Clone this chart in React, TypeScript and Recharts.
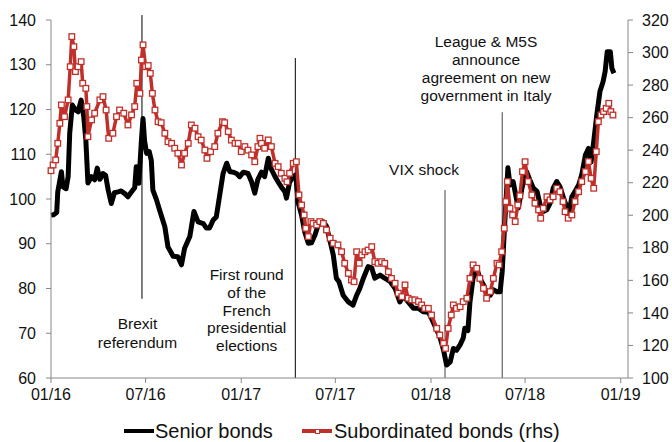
import { LineChart, Line, XAxis, YAxis, ReferenceLine } from 'recharts';

// days counted from 1 Jan 2016
const xTickDays = [0, 182, 366, 547, 731, 912, 1096];
const xTickLabels = ['01/16', '07/16', '01/17', '07/17', '01/18', '07/18', '01/19'];
const leftTicks = [60, 70, 80, 90, 100, 110, 120, 130, 140];
const rightTicks = [100, 120, 140, 160, 180, 200, 220, 240, 260, 280, 300, 320];

const seniorDays = [
  0, 5, 11, 13, 20, 23, 29, 33, 36, 41, 47, 52, 58, 63, 67, 71, 78, 84, 89, 94,
  100, 105, 110, 116, 122, 129, 135, 142, 148, 155, 161, 164, 169, 174, 177, 180, 184, 189, 193, 196,
  203, 209, 219, 225, 235, 244, 251, 257, 267, 275, 283, 293, 299, 305, 312, 318, 324, 331, 338, 344,
  350, 357, 363, 370, 379, 386, 392, 398, 405, 411, 418, 424, 431, 437, 443, 450, 453, 459, 466, 471,
  475, 482, 488, 495, 501, 508, 514, 524, 530, 537, 543, 549, 554, 562, 572, 581, 588, 594, 601, 610,
  617, 623, 633, 642, 652, 662, 671, 678, 687, 697, 707, 716, 726, 732, 739, 748, 755, 761, 768, 774,
  780, 787, 793, 796, 802, 806, 812, 819, 825, 832, 838, 845, 851, 858, 864, 868, 873, 879, 883, 889,
  894, 899, 906, 912, 915, 922, 928, 935, 941, 947, 954, 960, 966, 973, 979, 986, 992, 997, 1002, 1008,
  1015, 1021, 1028, 1034, 1039, 1044, 1050, 1056, 1062, 1066, 1070, 1076, 1079, 1083,
];
const seniorValues = [
  96.4, 96.5, 97, 101.6, 106.1, 102.7, 102.3, 105, 114.7, 121, 119.9, 119.5, 122.1, 118.4, 113.2, 103.6, 105, 104.3, 106.9, 104.4,
  105.7, 105.3, 102, 99, 101.4, 101.6, 101.8, 101.2, 100.5, 101.6, 102.5, 107.2, 103.5, 113.2, 118, 113, 110.2, 110.6, 108.6, 102,
  99.8, 97.5, 93.8, 89.3, 87.2, 87.1, 85.3, 89, 91.6, 97.2, 94.9, 94.5, 93.5, 93.5, 95.3, 96, 100.5, 105.7, 108, 106.1,
  106, 105.7, 105, 106, 105.7, 103.8, 101.3, 104.4, 106, 105, 109.1, 106.6, 105, 103.8, 102.7, 101.6, 100.2, 103.8, 105, 105.4,
  99.4, 96.4, 92.7, 90.1, 90.2, 92, 94.2, 94.9, 93.9, 90.5, 87.5, 82.3, 81.5, 78.5, 77, 76.3, 78.5, 80, 82.3, 84.9,
  84.6, 82.3, 83, 82.3, 81.6, 80, 77, 78.4, 77, 75.6, 75.6, 74.8, 74.7, 73.3, 71.5, 69.2, 66.3, 62.9, 63.6, 66.6,
  66.2, 67.4, 68.9, 71.1, 70.6, 77, 82.3, 84.5, 82.3, 80.8, 78.9, 78.5, 79.7, 79.3, 79.3, 83.8, 94.9, 107, 103.1, 103.9,
  100.9, 98, 102.4, 105.4, 106.1, 104, 102.4, 101.7, 98.7, 97.2, 97.6, 99, 102.4, 103.9, 102.8, 100.2, 98.3, 97.2, 100.5, 101.7,
  103.1, 105.4, 109.8, 111.3, 108.3, 112.8, 118.8, 124, 126.2, 128.5, 132.9, 132.9, 129.2, 128.1,
];

const subDays = [
  0, 4, 9, 13, 17, 20, 26, 33, 37, 40, 44, 47, 52, 58, 61, 67, 69, 71, 78, 84,
  94, 100, 106, 111, 119, 126, 132, 140, 148, 155, 161, 165, 171, 174, 177, 182, 187, 191, 195, 200,
  206, 212, 219, 225, 232, 238, 244, 251, 257, 264, 270, 277, 283, 289, 296, 300, 307, 315, 321, 330,
  334, 341, 347, 354, 360, 366, 373, 379, 386, 392, 398, 402, 405, 411, 418, 424, 431, 437, 443, 450,
  454, 459, 466, 472, 477, 482, 487, 490, 495, 500, 504, 511, 517, 524, 530, 537, 543, 552, 559, 565,
  572, 578, 583, 588, 593, 598, 604, 610, 617, 623, 629, 636, 642, 649, 655, 662, 668, 675, 681, 687,
  694, 700, 707, 713, 719, 726, 732, 742, 748, 755, 759, 764, 770, 774, 780, 787, 793, 800, 806, 812,
  819, 825, 832, 838, 845, 851, 858, 862, 867, 872, 875, 878, 883, 888, 893, 898, 902, 907, 912, 918,
  925, 931, 938, 942, 947, 954, 960, 966, 973, 979, 985, 989, 995, 1002, 1008, 1015, 1021, 1028, 1034, 1039,
  1044, 1049, 1053, 1058, 1063, 1068, 1073, 1077, 1081,
];
const subValues = [
  227.4, 230.9, 234, 244.2, 256.5, 267.8, 260.6, 270.9, 291.3, 309.8, 303.6, 288.3, 291.3, 294.4, 281.1, 278, 266.8, 248.3, 258.6, 262.7,
  270.9, 272.9, 264.7, 247.3, 250.4, 260.6, 264.7, 262.7, 255.5, 261.7, 266.8, 281.1, 274.9, 295.4, 304.7, 291.3, 292, 287.2, 274.9, 264.7,
  257.5, 256.9, 250.4, 245.2, 244.2, 241.2, 238.1, 230.9, 238.1, 244.2, 255.5, 253.5, 248.3, 246.2, 240.1, 235, 239.1, 242.2, 250.4, 257.5,
  256.9, 251.4, 246.2, 244.2, 244.2, 239.1, 242.2, 240, 237.1, 232.9, 242.2, 247.3, 244.2, 241.2, 246.3, 242.2, 231.9, 229.9, 225.8, 222.7,
  220.6, 225.8, 231.9, 232.9, 212.5, 206.3, 200.2, 192, 186.9, 196.1, 195, 194, 196.1, 195, 191, 185.9, 182.8, 181.8, 177.6, 170.5,
  164.3, 160.2, 159.2, 177.6, 170.5, 175.6, 177.6, 178.6, 180.7, 171.5, 170.5, 171.5, 170.5, 165.3, 161.2, 158.2, 152.1, 150, 157.2, 149,
  148, 148, 147, 144.9, 142.8, 142.8, 138.7, 130.5, 126.4, 121.3, 118.2, 130.5, 138.7, 144.9, 142.8, 143.8, 146.9, 149, 161.2, 169.5,
  167.4, 161.2, 155.1, 149, 153.1, 161.2, 170.5, 169.5, 177.6, 192, 208.4, 220.7, 204.3, 200.2, 196.1, 206.3, 212, 226.8, 232.9, 220.7,
  212.5, 207.4, 203.3, 198.2, 204.3, 211.4, 209.4, 211.4, 216.6, 214.5, 208.4, 202.2, 198.2, 200.2, 208.4, 214.5, 220.7, 226.8, 233, 222.7,
  216.6, 239.1, 257.5, 261.6, 263.7, 265.7, 268.8, 263.7, 261.6,
];

// event markers: day, top and bottom of the line (left axis units)
const eventDays = [175, 470, 758, 868];
const eventTops = [141.1, 131.5, 102, 119.4];
const eventBottoms = [77.7, 60, 60, 60];

const seniorData = seniorDays.map((day, i) => ({ day, senior: seniorValues[i] }));
const subData = subDays.map((day, i) => ({ day, sub: subValues[i] }));

const RED = '#c0302b';
const AXIS = '#888';
const FONT = '"Liberation Sans", Arial, sans-serif';

const SquareDot = (props: any) => {
  const { cx, cy, index } = props;
  if (cx == null || cy == null) return null;
  return (
    <rect key={`sq-${index}`} x={cx - 2.8} y={cy - 2.8} width={5.6} height={5.6} fill="#fff" stroke={RED} strokeWidth={1.3} />
  );
};

const Note = ({ cx, top, lh, lines }: { cx: number; top: number; lh: number; lines: string[] }) => (
  <div
    style={{
      position: 'absolute',
      left: cx - 100,
      top,
      width: 200,
      textAlign: 'center',
      fontSize: 15.5,
      lineHeight: `${lh}px`,
      color: '#111',
    }}
  >
    {lines.map((l) => (
      <div key={l}>{l}</div>
    ))}
  </div>
);

export default function App() {
  const tickStyle = { fill: '#111', fontSize: 16, fontFamily: FONT };
  return (
    <div style={{ position: 'absolute', left: 0, top: 0, width: 672, height: 442, background: '#fff', fontFamily: FONT }}>
      <LineChart width={672} height={442} margin={{ top: 20, right: 0, bottom: 34, left: 0 }}>
        <XAxis
          dataKey="day"
          type="number"
          domain={[0, 1110]}
          ticks={xTickDays}
          interval={0}
          tickFormatter={(d: number) => xTickLabels[xTickDays.indexOf(d)]}
          height={30}
          tickSize={5}
          tickMargin={6}
          axisLine={{ stroke: AXIS }}
          tickLine={{ stroke: AXIS }}
          tick={tickStyle}
          allowDuplicatedCategory={false}
        />
        <YAxis
          yAxisId="left"
          domain={[60, 140]}
          ticks={leftTicks}
          interval={0}
          width={51}
          tickSize={5}
          tickMargin={10}
          axisLine={{ stroke: AXIS }}
          tickLine={{ stroke: AXIS }}
          tick={tickStyle}
        />
        <YAxis
          yAxisId="right"
          orientation="right"
          domain={[100, 320]}
          ticks={rightTicks}
          interval={0}
          width={44}
          tickSize={5}
          tickMargin={9}
          axisLine={{ stroke: AXIS }}
          tickLine={{ stroke: AXIS }}
          tick={tickStyle}
        />
        {eventDays.map((d, i) => (
          <ReferenceLine
            key={`ev-${d}`}
            yAxisId="left"
            ifOverflow="visible"
            segment={[
              { x: d, y: eventTops[i] },
              { x: d, y: eventBottoms[i] },
            ]}
            stroke={i >= 2 ? '#444' : '#000'}
            strokeWidth={1}
          />
        ))}
        <Line
          yAxisId="left"
          data={seniorData}
          dataKey="senior"
          type="linear"
          stroke="#000"
          strokeWidth={5}
          strokeLinejoin="round"
          dot={false}
          isAnimationActive={false}
        />
        <Line
          yAxisId="right"
          data={subData}
          dataKey="sub"
          type="linear"
          stroke={RED}
          strokeWidth={3.5}
          strokeLinejoin="round"
          dot={SquareDot}
          isAnimationActive={false}
        />
      </LineChart>

      <Note cx={137.5} top={313.5} lh={19} lines={['Brexit', 'referendum']} />
      <Note cx={246.7} top={266} lh={17.8} lines={['First round', 'of the', 'French', 'presidential', 'elections']} />
      <Note cx={424} top={161} lh={18} lines={['VIX shock']} />
      <Note cx={486} top={32.7} lh={18} lines={['League & M5S', 'announce', 'agreement on new', 'government in Italy']} />

      <div style={{ position: 'absolute', left: 124, top: 429, width: 30, height: 4, background: '#000' }} />
      <div style={{ position: 'absolute', left: 155, top: 419, fontSize: 20, lineHeight: '24px', color: '#111' }}>Senior bonds</div>
      <div style={{ position: 'absolute', left: 302, top: 429, width: 30, height: 4, background: RED }} />
      <div
        style={{ position: 'absolute', left: 314.5, top: 428.5, width: 3, height: 3, background: '#fff', border: `1px solid ${RED}` }}
      />
      <div style={{ position: 'absolute', left: 334, top: 419, fontSize: 20, lineHeight: '24px', color: '#111' }}>
        Subordinated bonds (rhs)
      </div>
    </div>
  );
}
